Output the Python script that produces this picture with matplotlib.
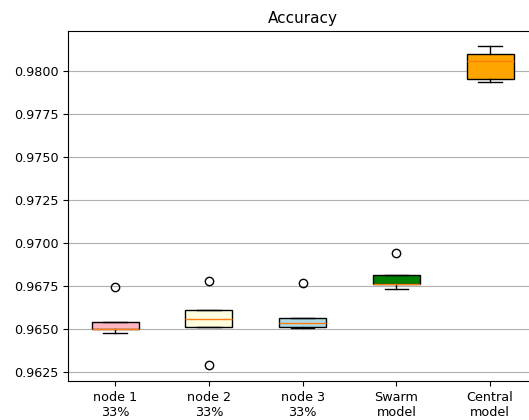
#!/usr/bin/env python3
# -*- coding: utf-8 -*-

import matplotlib
matplotlib.use("Agg")
import matplotlib.pyplot as plt

# box statistics
labels = ["node 1\n33%", "node 2\n33%", "node 3\n33%", "Swarm\nmodel", "Central\nmodel"]
q1 = [0.96500, 0.96516, 0.96512, 0.96764, 0.97952]
med = [0.96502, 0.96562, 0.96537, 0.96765, 0.98060]
q3 = [0.96540, 0.96610, 0.96567, 0.96815, 0.98098]
whislo = [0.96480, 0.96516, 0.96508, 0.96735, 0.97938]
whishi = [0.96540, 0.96610, 0.96567, 0.96815, 0.98145]
fliers = [[0.96746], [0.96781, 0.96292], [0.96769], [0.96945], []]
colors = ["lightpink", "lightyellow", "lightblue", "green", "orange"]


def make_stats():
    stats = []
    for i in range(len(labels)):
        stats.append(dict(med=med[i], q1=q1[i], q3=q3[i], whislo=whislo[i],
                          whishi=whishi[i], fliers=fliers[i], label=labels[i]))
    return stats


def main():
    fig = plt.figure(figsize=(5.29, 4.2), dpi=100)
    ax = fig.add_axes([0.1291, 0.0929, 0.886, 0.8326])
    bp = ax.bxp(make_stats(), patch_artist=True, widths=0.5)
    for patch, c in zip(bp["boxes"], colors):
        patch.set_facecolor(c)
    ax.set_xlim(0.5, 5.5)
    ax.set_ylim(0.96200, 0.98230)
    ax.set_yticks([0.9625, 0.9650, 0.9675, 0.9700, 0.9725, 0.9750, 0.9775, 0.9800])
    ax.yaxis.grid(True, color="#b0b0b0")
    ax.set_axisbelow(True)
    ax.tick_params(labelsize=9.2)
    ax.set_title("Accuracy", fontsize=11)
    fig.savefig("out.png", dpi=100)


if __name__ == "__main__":
    main()
